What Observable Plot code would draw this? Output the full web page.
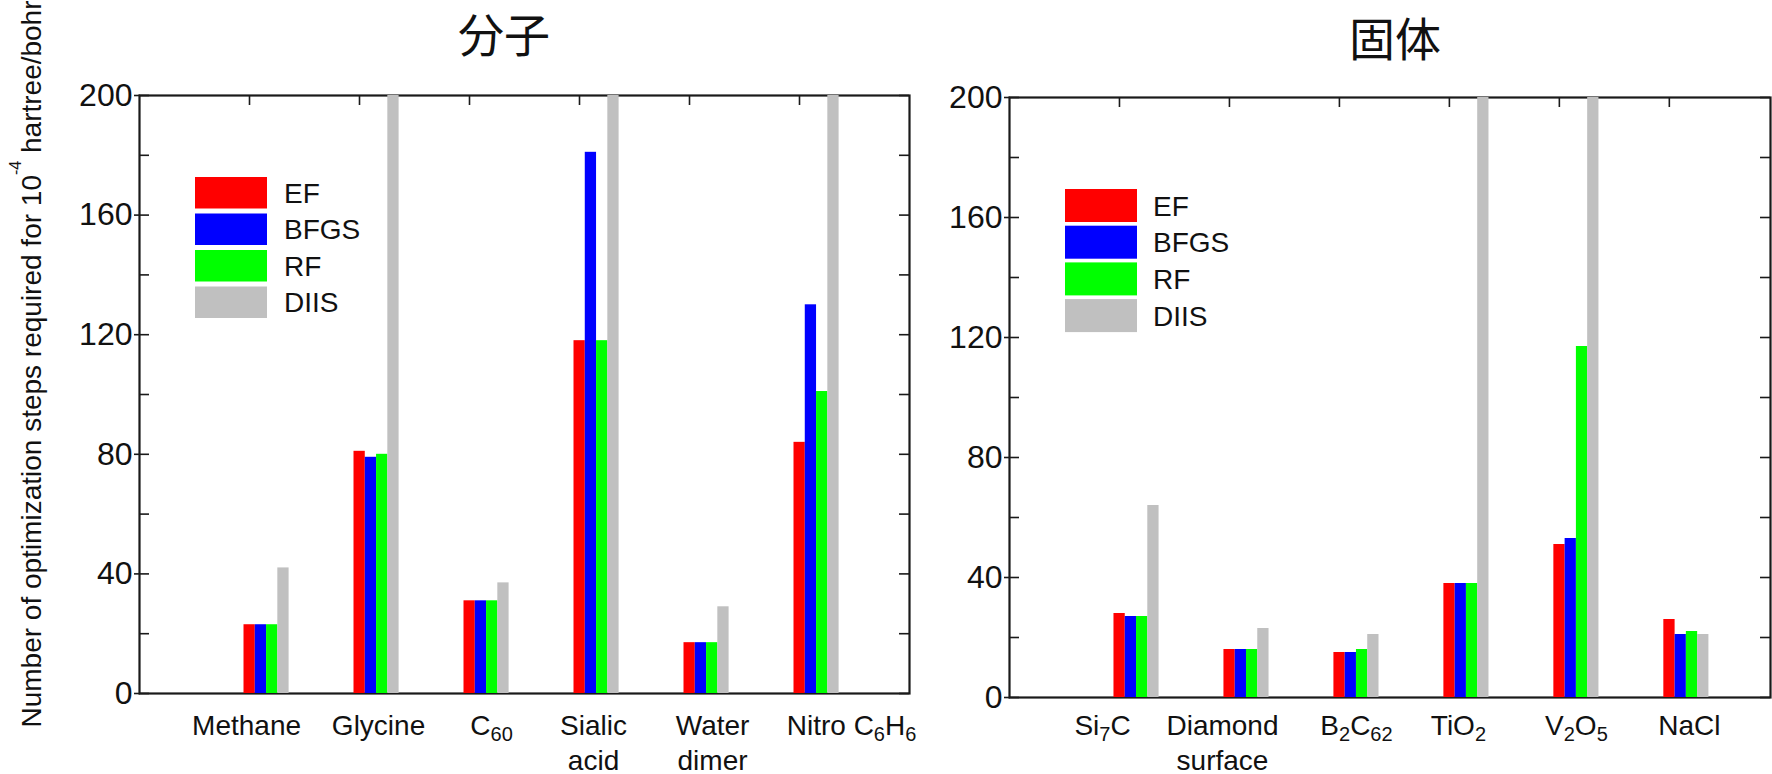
<!DOCTYPE html>
<html>
<head>
<meta charset="utf-8">
<script src="https://cdn.jsdelivr.net/npm/d3@7"></script>
<script src="https://cdn.jsdelivr.net/npm/@observablehq/plot@0.6"></script>
<style>
  html, body { margin: 0; padding: 0; background: #fff; overflow: hidden; }
  #root { position: relative; width: 1772px; height: 774px; font-family: "Liberation Sans", Arial, Helvetica, sans-serif; }
  #root > svg { position: absolute; top: 0; }
</style>
</head>
<body>
<div id="root"></div>
<script>
// ---------------- DATA ----------------
const titles = ["分子", "固体"];
const methods = ["EF", "BFGS", "RF", "DIIS"];
const methodColors = ["#ff0000", "#0000ff", "#00ff00", "#c0c0c0"];

const molecules = ["Methane", "Glycine", "C_{60}", "Sialic\nacid", "Water\ndimer", "Nitro C_{6}H_{6}"];
const molEF   = [23, 81, 31, 118, 17, 84];
const molBFGS = [23, 79, 31, 181, 17, 130];
const molRF   = [23, 80, 31, 118, 17, 101];
const molDIIS = [42, 200, 37, 200, 29, 200];

const solids = ["Si_{7}C", "Diamond\nsurface", "B_{2}C_{62}", "TiO_{2}", "V_{2}O_{5}", "NaCl"];
const solEF   = [28, 16, 15, 38, 51, 26];
const solBFGS = [27, 16, 15, 38, 53, 21];
const solRF   = [27, 16, 16, 38, 117, 22];
const solDIIS = [64, 23, 21, 200, 200, 21];

const yTicks = [0, 40, 80, 120, 160, 200];
const yMinorTicks = [20, 60, 100, 140, 180];
const xTicks = [1, 2, 3, 4, 5, 6];

const yLabelMain = "Number of optimization steps required for 10";
const yLabelSup = "-4";
const yLabelUnit = " hartree/bohr";

// ---------------- STYLE / LAYOUT ----------------
const H = 774;
const FONT = '"Liberation Sans", Arial, Helvetica, sans-serif';
const CJK = '"Noto Sans CJK JP", "Noto Sans CJK SC", sans-serif';
const BAR_W = 0.1025, GROUP_SHIFT = -0.05;
const layouts = [
  {left: 0, width: 920, marginLeft: 139, marginRight: 11, marginTop: 95, marginBottom: 81, xMax: 7,
   labelDy: 17, labelShiftPx: [-20, 2, 5, -3, 6, 35],
   title: {x: 504, y: 52}, legend: {x: 195, y: 177, pitch: 36.5, h: 31.5, w: 72, tx: 284}},
  {left: 930, width: 842, marginLeft: 79, marginRight: 2, marginTop: 97, marginBottom: 77, xMax: 6.92,
   labelDy: 13, labelShiftPx: [-34, -24, 0, -8, 0, 3],
   title: {x: 1395, y: 56}, legend: {x: 1065, y: 189, pitch: 36.7, h: 33, w: 72, tx: 1153}}
];

const root = document.getElementById("root");
const SVGNS = "http://www.w3.org/2000/svg";

function addSubscripts(svg) {
  svg.querySelectorAll("text").forEach(text => {
    if (!text.textContent.includes("_{")) return;
    const tspans = Array.from(text.children).filter(c => c.tagName.toLowerCase() === "tspan");
    const lines = tspans.length ? tspans : [text];
    lines.forEach(node => {
      const s = node.textContent;
      if (!s.includes("_{")) return;
      node.textContent = "";
      s.split(/(_\{[^}]*\})/).filter(p => p.length).forEach(p => {
        const t = document.createElementNS(SVGNS, "tspan");
        if (p.startsWith("_{")) {
          t.textContent = p.slice(2, -1);
          t.setAttribute("font-size", "20");
          t.setAttribute("baseline-shift", "-6");
        } else {
          t.textContent = p;
        }
        node.appendChild(t);
      });
    });
  });
}

function panel(cats, series, L) {
  const rows = [];
  cats.forEach((c, i) => methods.forEach((m, j) => rows.push({i: i + 1, j, method: m, value: series[j][i]})));
  const innerW = L.width - L.marginLeft - L.marginRight;
  const innerH = H - L.marginTop - L.marginBottom;
  const pxPerUnit = innerW / L.xMax;
  const labels = cats.map((c, i) => ({i: i + 1, label: c, shift: L.labelShiftPx[i] / pxPerUnit}));
  const allTicks = yTicks.concat(yMinorTicks);
  const tickStroke = {stroke: "#1a1a1a", strokeWidth: 1.6};
  const chart = Plot.plot({
    width: L.width, height: H,
    marginLeft: L.marginLeft, marginRight: L.marginRight, marginTop: L.marginTop, marginBottom: L.marginBottom,
    x: {type: "linear", domain: [0, L.xMax], axis: null},
    y: {domain: [0, 200], axis: null},
    color: {domain: methods, range: methodColors},
    style: {fontFamily: FONT, background: "transparent", overflow: "visible"},
    marks: [
      Plot.frame({stroke: "#1a1a1a", strokeWidth: 2.2}),
      Plot.ruleY(allTicks, {insetRight: innerW - 10, ...tickStroke}),
      Plot.ruleY(yTicks, {insetLeft: -5, insetRight: innerW - 1, ...tickStroke}),
      Plot.ruleY(allTicks, {insetLeft: innerW - 10, ...tickStroke}),
      Plot.ruleX(xTicks, {insetBottom: innerH - 10, ...tickStroke}),
      Plot.ruleX(xTicks, {insetTop: innerH - 10, ...tickStroke}),
      Plot.rectY(rows, {
        x1: d => d.i + GROUP_SHIFT + d.j * BAR_W,
        x2: d => d.i + GROUP_SHIFT + (d.j + 1) * BAR_W,
        y1: 0, y2: "value", fill: "method"
      }),
      Plot.text(yTicks, {x: 0, y: d => d, text: d => String(d), textAnchor: "end", dx: -7,
        fontSize: 32, fill: "#111"}),
      Plot.text(labels, {x: d => d.i + GROUP_SHIFT + 2 * BAR_W + d.shift, y: 0, text: "label",
        lineAnchor: "top", lineHeight: 1.25, dy: L.labelDy, fontSize: 28, fill: "#111"})
    ]
  });
  chart.style.left = L.left + "px";
  addSubscripts(chart);
  root.appendChild(chart);
}

panel(molecules, [molEF, molBFGS, molRF, molDIIS], layouts[0]);
panel(solids, [solEF, solBFGS, solRF, solDIIS], layouts[1]);

// ---------------- OVERLAY: titles, legends, y label ----------------
const overlay = d3.select(root).append("svg")
  .attr("width", 1772).attr("height", H)
  .style("left", "0px").style("pointer-events", "none");

layouts.forEach((L, k) => {
  overlay.append("text")
    .attr("x", L.title.x).attr("y", L.title.y)
    .attr("text-anchor", "middle")
    .attr("font-family", CJK).attr("font-size", 46).attr("fill", "#111")
    .text(titles[k]);
  const g = overlay.append("g");
  methods.forEach((m, j) => {
    const y0 = L.legend.y + j * L.legend.pitch;
    g.append("rect").attr("x", L.legend.x).attr("y", y0)
      .attr("width", L.legend.w).attr("height", L.legend.h).attr("fill", methodColors[j]);
    g.append("text").attr("x", L.legend.tx).attr("y", y0 + L.legend.h / 2)
      .attr("dy", "0.36em").attr("font-family", FONT).attr("font-size", 28).attr("fill", "#111")
      .text(m);
  });
});

const yl = overlay.append("text")
  .attr("transform", "translate(41,364) rotate(-90)")
  .attr("text-anchor", "middle")
  .attr("font-family", FONT).attr("font-size", 28).attr("fill", "#111");
yl.append("tspan").text(yLabelMain);
yl.append("tspan").attr("font-size", 16).attr("dy", -20).text(yLabelSup);
yl.append("tspan").attr("dy", 20).text(yLabelUnit);
</script>
</body>
</html>
